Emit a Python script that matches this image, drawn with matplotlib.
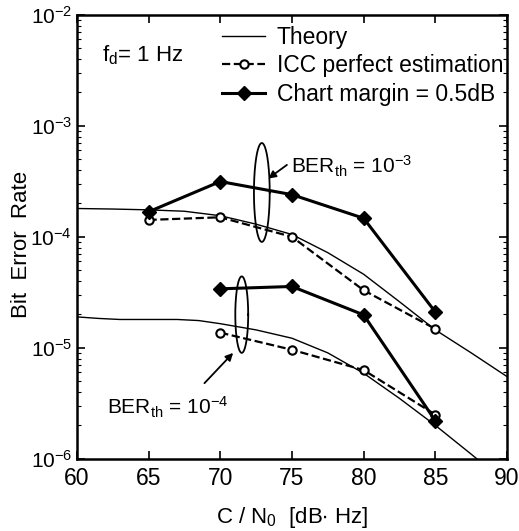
import numpy as np
import matplotlib.pyplot as plt
from matplotlib.ticker import FixedLocator, LogLocator, NullFormatter

plt.rcParams['font.family'] = ['Liberation Sans', 'DejaVu Sans']
plt.rcParams['mathtext.fontset'] = 'custom'
plt.rcParams['mathtext.rm'] = 'Liberation Sans'
plt.rcParams['mathtext.it'] = 'Liberation Sans'
plt.rcParams['font.size'] = 15

# theory curves
theory_x = [60, 62.5, 65, 67.5, 70, 72.5, 75, 77.5, 80, 82.5, 85, 87.5, 90]
theory_hi = [1.8e-4, 1.78e-4, 1.75e-4, 1.7e-4, 1.55e-4, 1.3e-4, 1.05e-4, 7.2e-5, 4.6e-5, 2.6e-5, 1.45e-5, 9e-6, 5.5e-6]
theory_lo_x = [60, 61.5, 63, 65, 67, 68.5, 70, 72.5, 75, 77.5, 80, 82.5, 85, 87.5, 90]
theory_lo = [1.9e-5, 1.84e-5, 1.8e-5, 1.8e-5, 1.8e-5, 1.76e-5, 1.65e-5, 1.45e-5, 1.22e-5, 9e-6,
             5.9e-6, 3.5e-6, 2.0e-6, 1.1e-6, 6e-7]

# BER_th = 1e-3
icc_hi_x = [65, 70, 75, 80, 85]
icc_hi = [1.42e-4, 1.5e-4, 1.0e-4, 3.3e-5, 1.48e-5]
chart_hi_x = [65, 70, 75, 80, 85]
chart_hi = [1.68e-4, 3.15e-4, 2.4e-4, 1.47e-4, 2.1e-5]

# BER_th = 1e-4
icc_lo_x = [70, 75, 80, 85]
icc_lo = [1.37e-5, 9.6e-6, 6.3e-6, 2.5e-6]
chart_lo_x = [70, 75, 80, 85]
chart_lo = [3.4e-5, 3.57e-5, 1.98e-5, 2.2e-6]

fig = plt.figure(figsize=(5.19, 5.31), dpi=100)
ax = fig.add_axes([0.148, 0.136, 0.829, 0.836])

ax.plot(theory_x, theory_hi, color='black', lw=1, label='Theory')
ax.plot(icc_hi_x, icc_hi, 'o--', color='black', lw=1.6, ms=6, mfc='white', mew=1.5,
        label='ICC perfect estimation')
ax.plot(chart_hi_x, chart_hi, 'D-', color='black', lw=2.2, ms=7, label='Chart margin = 0.5dB')
ax.plot(theory_lo_x, theory_lo, color='black', lw=1)
ax.plot(icc_lo_x, icc_lo, 'o--', color='black', lw=1.6, ms=6, mfc='white', mew=1.5)
ax.plot(chart_lo_x, chart_lo, 'D-', color='black', lw=2.2, ms=7)

ax.set_yscale('log')
ax.set_xlim(60, 90)
ax.set_ylim(1e-6, 1e-2)
ax.xaxis.set_major_locator(FixedLocator([60, 65, 70, 75, 80, 85, 90]))
ax.yaxis.set_minor_locator(LogLocator(base=10, subs=np.arange(2, 10)))
ax.yaxis.set_minor_formatter(NullFormatter())
ax.set_yticks([1e-6, 1e-5, 1e-4, 1e-3, 1e-2])
ax.set_yticklabels([r'$10^{-6}$', r'$10^{-5}$', r'$10^{-4}$', r'$10^{-3}$', r'$10^{-2}$'])
ax.tick_params(which='both', direction='in', top=True, right=True)
ax.tick_params(axis='y', labelsize=15)
ax.tick_params(axis='x', labelsize=16.5, pad=6)
ax.tick_params(which='major', length=6, width=1.2)
ax.tick_params(which='minor', length=3, width=0.8)
for s in ax.spines.values():
    s.set_linewidth(1.8)

ax.set_xlabel(r'C / N$_0$  [dB$\bullet$ Hz]', fontsize=16)
ax.xaxis.set_label_coords(0.5, -0.105)
ax.set_ylabel('Bit  Error  Rate', fontsize=16)
ax.yaxis.set_label_coords(-0.105, 0.482)

ax.legend(loc='upper left', bbox_to_anchor=(0.337, 0.975), frameon=False, fontsize=16.5,
          handlelength=1.9, handletextpad=0.5, labelspacing=0.24, borderaxespad=0, borderpad=0)

ax.text(61.75, 4.3e-3, r'f$_\mathregular{d}$= 1 Hz', fontsize=16, va='center')


def data_ellipse(xc, y0, y1, width):
    # ellipse drawn in log-y space so it looks round on the log axis
    t = np.linspace(0, 2 * np.pi, 200)
    lc = (np.log10(y0) + np.log10(y1)) / 2
    lr = (np.log10(y1) - np.log10(y0)) / 2
    ax.plot(xc + width / 2 * np.cos(t), 10 ** (lc + lr * np.sin(t)), color='black', lw=1.3)


data_ellipse(72.9, 9.0e-5, 7.0e-4, 1.1)
data_ellipse(71.5, 9.0e-6, 4.4e-5, 0.9)

arrow = dict(arrowstyle='-|>', color='black', lw=1.3, shrinkA=0, shrinkB=0, mutation_scale=11)
ax.annotate('', xy=(73.35, 3.35e-4), xytext=(74.65, 4.45e-4), arrowprops=arrow)
ax.text(74.9, 4.27e-4, 'BER$_\\mathregular{th}$ = 10$^{-3}$', fontsize=15, va='center')
ax.annotate('', xy=(70.9, 9.0e-6), xytext=(68.9, 4.8e-6), arrowprops=arrow)
ax.text(62.1, 2.9e-6, 'BER$_\\mathregular{th}$ = 10$^{-4}$', fontsize=15, va='center')

fig.savefig('out.png', dpi=100)
